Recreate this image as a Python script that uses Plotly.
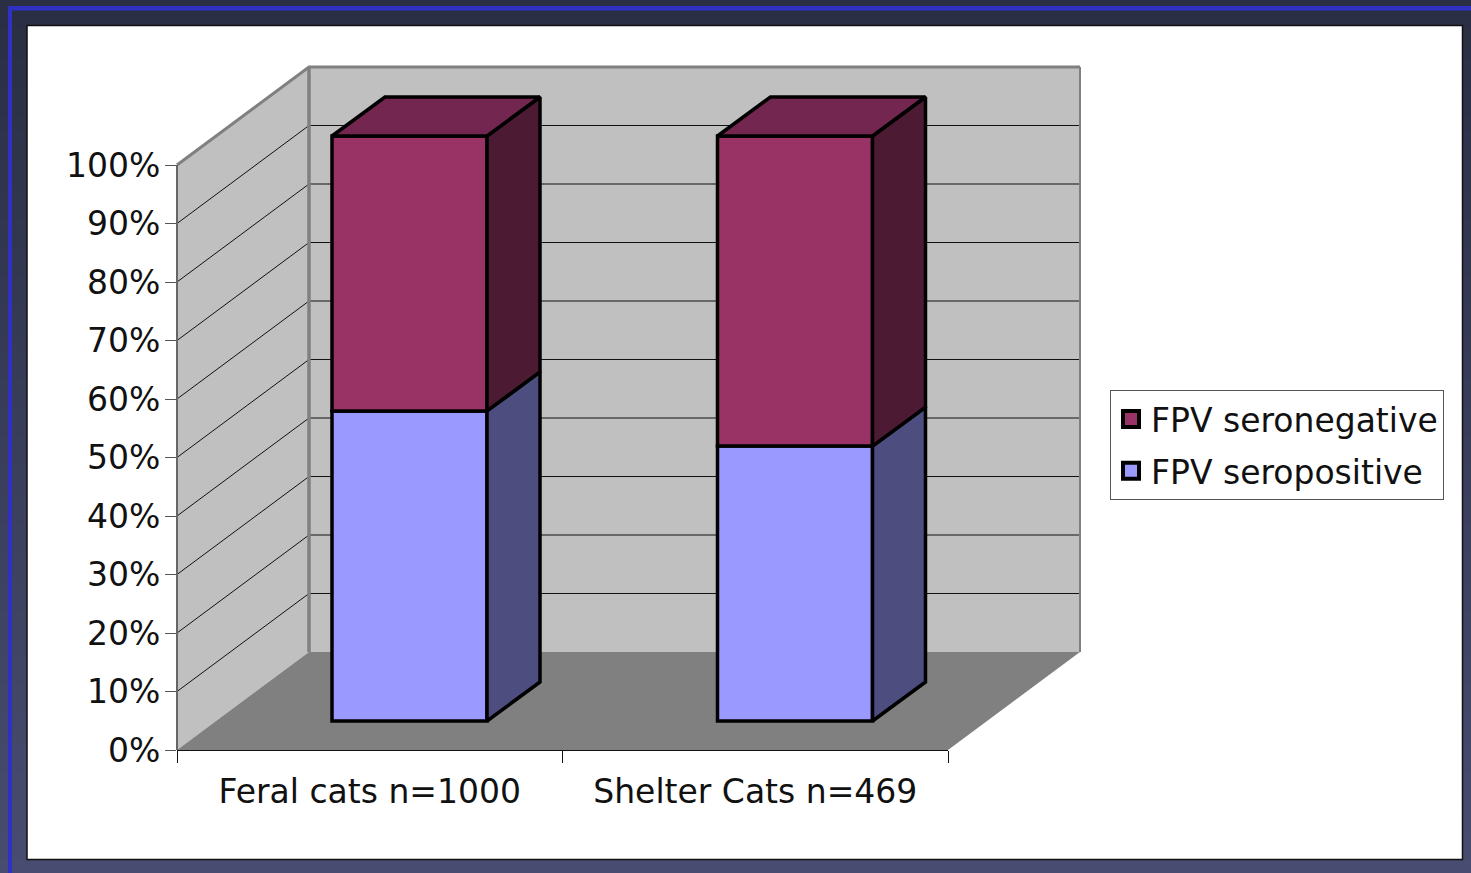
import plotly.graph_objects as go

# ---- data ----
categories = ["Feral cats n=1000", "Shelter Cats n=469"]
seropositive = [53, 47]
seronegative = [47, 53]
series_names = ["FPV seropositive", "FPV seronegative"]
y_ticks = [0, 10, 20, 30, 40, 50, 60, 70, 80, 90, 100]

# ---- canvas / styling ----
W, H = 1471, 873
X0, X1, Y0, Y1 = 177, 948, 750, 165   # pixel frame of the axes
Y_TOP = 100                            # labelled axis extends upward so bars are not clipped
FONT = "DejaVu Sans"
FS = 33
PX_CAT = (X1 - X0) / len(categories)
PX_PCT = (Y0 - Y1) / 100
DEPTH_X, DEPTH_Y = 132 / PX_CAT, 98 / PX_PCT     # chart depth in axis units
BAR_DX, BAR_DY = 53 / PX_CAT, 39 / PX_PCT        # bar depth in axis units
BAR_BASE = 29 / PX_PCT                            # front-face lift
BAR_OFFSET, BAR_WIDTH = -37.75 / PX_CAT, 155 / PX_CAT
XR = [-0.5, len(categories) - 0.5]
XMAX = XR[1]
LW = 3.5
# full-page projection axes share the scale of the labelled axes
FULL_X = [XR[0] - X0 / PX_CAT, XR[0] + (W - X0) / PX_CAT]
FULL_Y = [-(H - Y0) / PX_PCT, Y0 / PX_PCT]


def poly(xs, ys, fill, line=None, width=0, xa="x", ya="y"):
    return go.Scatter(x=xs + xs[:1], y=ys + ys[:1], mode="lines", fill="toself", fillcolor=fill,
                      line=dict(color=line or fill, width=width), showlegend=False,
                      hoverinfo="skip", cliponaxis=False, xaxis=xa, yaxis=ya)


def path(xs, ys, color, width):
    return go.Scatter(x=xs, y=ys, mode="lines", line=dict(color=color, width=width), showlegend=False,
                      hoverinfo="skip", cliponaxis=False, xaxis="x", yaxis="y")


fig = go.Figure()
# walls and floor
fig.add_trace(poly([XR[0], XR[0] + DEPTH_X, XR[0] + DEPTH_X, XR[0]], [0, DEPTH_Y, 100 + DEPTH_Y, 100], "#c0c0c0"))
fig.add_trace(poly([XR[0] + DEPTH_X, XMAX + DEPTH_X, XMAX + DEPTH_X, XR[0] + DEPTH_X],
                   [DEPTH_Y, DEPTH_Y, 100 + DEPTH_Y, 100 + DEPTH_Y], "#c0c0c0"))
fig.add_trace(poly([XR[0], XMAX, XMAX + DEPTH_X, XR[0] + DEPTH_X], [0, 0, DEPTH_Y, DEPTH_Y], "#808080"))
# gridlines
for v in y_ticks[1:-1]:
    fig.add_trace(path([XR[0], XR[0] + DEPTH_X, XMAX + DEPTH_X], [v, v + DEPTH_Y, v + DEPTH_Y], "#111111", 1))
# wall edges
fig.add_trace(path([XR[0], XR[0] + DEPTH_X, XMAX + DEPTH_X], [100, 100 + DEPTH_Y, 100 + DEPTH_Y], "#808080", 3))
fig.add_trace(path([XR[0] + DEPTH_X, XR[0] + DEPTH_X], [DEPTH_Y, 100 + DEPTH_Y], "#808080", 3.5))
fig.add_trace(path([XMAX + DEPTH_X, XMAX + DEPTH_X], [DEPTH_Y, 100 + DEPTH_Y], "#808080", 2))
fig.add_trace(path([XR[0], XR[0]], [0, 100], "#666666", 2))

# front faces: real bars on the labelled category axis
neg_base = [BAR_BASE + p for p in seropositive]
fig.add_trace(go.Bar(x=categories, y=seropositive, base=[BAR_BASE] * len(categories), offset=BAR_OFFSET,
                     width=BAR_WIDTH, marker=dict(color="#9999ff", line=dict(color="black", width=LW)),
                     showlegend=False, cliponaxis=False, xaxis="x2", yaxis="y2", name=series_names[0]))
fig.add_trace(go.Bar(x=categories, y=seronegative, base=neg_base, offset=BAR_OFFSET,
                     width=BAR_WIDTH, marker=dict(color="#993366", line=dict(color="black", width=LW)),
                     showlegend=False, cliponaxis=False, xaxis="x2", yaxis="y2", name=series_names[1]))

# side and top faces projected from the same values
for i in range(len(categories)):
    xr = i + BAR_OFFSET + BAR_WIDTH
    xl = i + BAR_OFFSET
    b = BAR_BASE
    m = b + seropositive[i]
    t = m + seronegative[i]
    kw = dict(line="black", width=LW, xa="x3", ya="y3")
    fig.add_trace(poly([xr, xr + BAR_DX, xr + BAR_DX, xr], [b, b + BAR_DY, m + BAR_DY, m], "#4d4d80", **kw))
    fig.add_trace(poly([xr, xr + BAR_DX, xr + BAR_DX, xr], [m, m + BAR_DY, t + BAR_DY, t], "#4d1a33", **kw))
    fig.add_trace(poly([xl, xl + BAR_DX, xr + BAR_DX, xr], [t, t + BAR_DY, t + BAR_DY, t], "#732650", **kw))

# legend entries
for name, color in zip(series_names[::-1], ["#993366", "#9999ff"]):
    fig.add_trace(go.Scatter(x=[None], y=[None], mode="markers", name=name, legendgroup=name,
                             marker=dict(symbol="square", size=16, color=color, line=dict(color="black", width=4)),
                             xaxis="x3", yaxis="y3"))

# page background: vertical gradient, blue rules, white panel
shapes = []
N = 60
c0, c1 = (42, 47, 68), (72, 76, 112)
for k in range(N):
    f = k / (N - 1)
    col = "rgb(%d,%d,%d)" % tuple(round(a + (b - a) * f) for a, b in zip(c0, c1))
    shapes.append(dict(type="rect", xref="paper", yref="paper", x0=0, x1=1, y0=max(0, 1 - (k + 1.2) / N), y1=1 - k / N,
                       fillcolor=col, line_width=0, layer="below"))
BLUE = "#3030c4"
shapes.append(dict(type="rect", xref="paper", yref="paper", x0=8 / W, x1=1, y0=1 - 10.5 / H, y1=1 - 6 / H,
                   fillcolor=BLUE, line_width=0, layer="below"))
shapes.append(dict(type="rect", xref="paper", yref="paper", x0=8 / W, x1=12 / W, y0=0, y1=1 - 6 / H,
                   fillcolor=BLUE, line_width=0, layer="below"))
shapes.append(dict(type="rect", xref="paper", yref="paper", x0=27 / W, x1=1462.5 / W, y0=1 - 859.5 / H, y1=1 - 25.5 / H,
                   fillcolor="white", line=dict(color="#111111", width=1.5), layer="below"))

dom_x = [X0 / W, X1 / W]
dom_y = [1 - Y0 / H, 1 - Y_TOP / H]
hidden = dict(visible=False, fixedrange=True)
fig.update_layout(
    width=W, height=H, autosize=False,
    margin=dict(l=0, r=0, t=0, b=0, autoexpand=False),
    paper_bgcolor="#2a2f44", plot_bgcolor="rgba(0,0,0,0)",
    font=dict(family=FONT, size=FS, color="#111111"),
    barmode="overlay",
    shapes=shapes,
    showlegend=True,
    legend=dict(x=1110 / W, y=1 - 390 / H, xanchor="left", yanchor="top", bgcolor="white",
                bordercolor="#555555", borderwidth=1, tracegroupgap=6, traceorder="grouped",
                itemsizing="trace", entrywidth=302, entrywidthmode="pixels",
                font=dict(family=FONT, size=FS, color="#111111")),
    xaxis=dict(domain=[0, 1], range=FULL_X, anchor="y", **hidden),
    yaxis=dict(domain=[0, 1], range=FULL_Y, anchor="x", **hidden),
    xaxis2=dict(domain=dom_x, type="category", categoryorder="array", categoryarray=categories, range=XR,
                anchor="y2", tickson="boundaries", ticks="outside", ticklen=12, tickcolor="#111111",
                tickwidth=1, showline=True, linecolor="#111111", linewidth=1, showgrid=False, fixedrange=True,
                tickfont=dict(family=FONT, size=FS, color="#111111"), ticklabelstandoff=12),
    yaxis2=dict(domain=dom_y, range=[0, (Y0 - Y_TOP) / PX_PCT], anchor="x2", tickmode="array", tickvals=y_ticks,
                ticktext=["%d%%" % v for v in y_ticks], ticks="outside", ticklen=11, tickcolor="#555555",
                tickwidth=1, showline=False, showgrid=False, zeroline=False,
                fixedrange=True, tickfont=dict(family=FONT, size=FS, color="#111111"), ticklabelstandoff=-2),
    xaxis3=dict(domain=[0, 1], range=FULL_X, anchor="y3", **hidden),
    yaxis3=dict(domain=[0, 1], range=FULL_Y, anchor="x3", **hidden),
)
fig.write_html("out.html", config=dict(displayModeBar=False),
               post_script="document.body.style.margin='0';document.body.style.overflow='hidden';")
